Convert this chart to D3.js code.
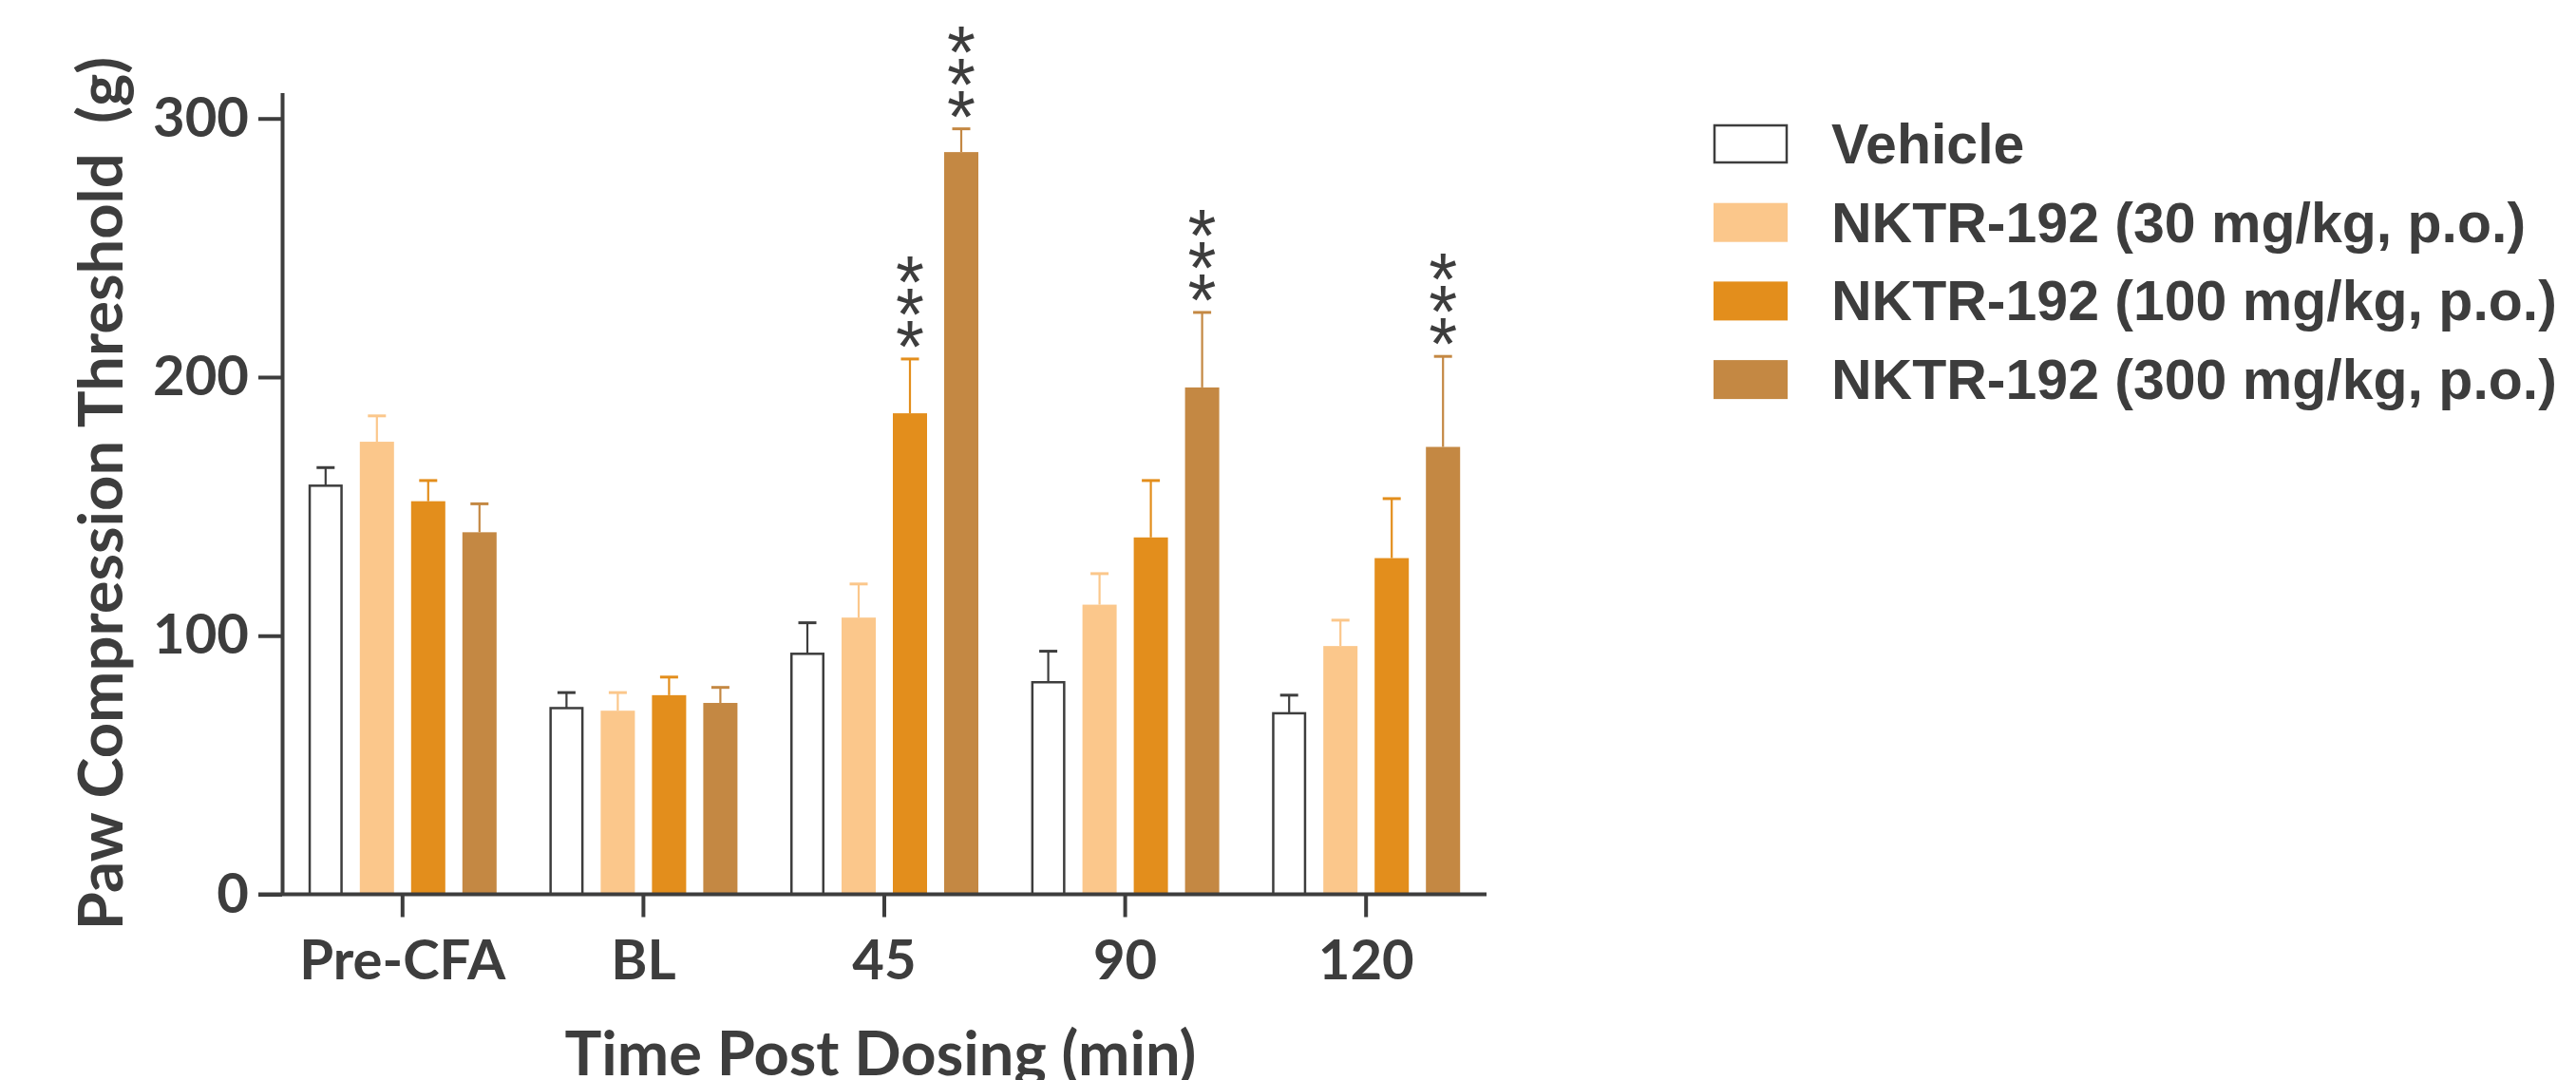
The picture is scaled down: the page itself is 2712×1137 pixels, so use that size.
<!DOCTYPE html>
<html>
<head>
<meta charset="utf-8">
<script src="https://cdn.jsdelivr.net/npm/d3@7"></script>
<style>
  body { margin: 0; background: #fff; }
  svg { display: block; }
</style>
</head>
<body>
<div class="chart"></div>
<script>
// data
var categories = ["Pre-CFA", "BL", "45", "90", "120"];
var seriesNames = ["Vehicle", "NKTR-192 (30 mg/kg, p.o.)", "NKTR-192 (100 mg/kg, p.o.)", "NKTR-192 (300 mg/kg, p.o.)"];
var vehicle = [158, 72, 93, 82, 70];
var vehicleErr = [7, 6, 12, 12, 7];
var nktr30 = [175, 71, 107, 112, 96];
var nktr30Err = [10, 7, 13, 12, 10];
var nktr100 = [152, 77, 186, 138, 130];
var nktr100Err = [8, 7, 21, 22, 23];
var nktr300 = [140, 74, 287, 196, 173];
var nktr300Err = [11, 6, 9, 29, 35];
// significance marks: [series index, category index]
var stars = [[2, 2], [3, 2], [3, 3], [3, 4]];
var yTicks = [0, 100, 200, 300];

var values = [vehicle, nktr30, nktr100, nktr300];
var errors = [vehicleErr, nktr30Err, nktr100Err, nktr300Err];
var fills = ["#ffffff", "#fbc78b", "#e38e1c", "#c48843"];
var dark = "#3d3d3d";

var W = 2712, H = 1137;

var svg = d3.select(".chart").append("svg")
	.attr("width", W)
	.attr("height", H);

var x0 = d3.scaleBand()
	.domain(categories)
	.range([297, 1565]);

var x1 = d3.scaleBand()
	.domain(d3.range(seriesNames.length))
	.range([-108, 108])
	.paddingInner(1 / 3)
	.paddingOuter(1 / 6);

var y = d3.scaleLinear()
	.domain([0, 310])
	.range([941.5, 97.5]);

// flatten to one record per bar
var bars = [];
categories.forEach(function(c, ci) {
	values.forEach(function(vals, si) {
		bars.push({cat: c, ci: ci, s: si, v: vals[ci], e: errors[si][ci]});
	});
});

var barX = function(d) { return x0(d.cat) + x0.bandwidth() / 2 + x1(d.s); };
var barMid = function(d) { return barX(d) + x1.bandwidth() / 2; };

// error bars (up only) drawn first, bar covers the base
var eb = svg.append("g").selectAll("g")
	.data(bars)
	.enter()
	.append("g")
	.style("stroke", function(d) { return d.s == 0 ? dark : fills[d.s]; });

eb.append("line")
	.attr("x1", barMid)
	.attr("x2", barMid)
	.attr("y1", function(d) { return y(d.v); })
	.attr("y2", function(d) { return y(d.v + d.e); })
	.style("stroke-width", 2.2);

eb.append("line")
	.attr("x1", function(d) { return barMid(d) - 9.5; })
	.attr("x2", function(d) { return barMid(d) + 9.5; })
	.attr("y1", function(d) { return y(d.v + d.e); })
	.attr("y2", function(d) { return y(d.v + d.e); })
	.style("stroke-width", 3);

svg.append("g").selectAll("rect")
	.data(bars)
	.enter()
	.append("rect")
	.attr("x", function(d) { return d.s == 0 ? barX(d) + 1.25 : barX(d); })
	.attr("width", function(d) { return d.s == 0 ? x1.bandwidth() - 2.5 : x1.bandwidth(); })
	.attr("y", function(d) { return y(d.v); })
	.attr("height", function(d) { return y(0) - y(d.v); })
	.style("fill", function(d) { return fills[d.s]; })
	.style("stroke", function(d) { return d.s == 0 ? dark : "none"; })
	.style("stroke-width", 2.5);

// asterisks above the error caps
var starG = svg.append("g");
stars.forEach(function(p) {
	var d = bars.filter(function(b) { return b.s == p[0] && b.ci == p[1]; })[0];
	var top = y(d.v + d.e);
	for (var k = 0; k < 3; k++) {
		starG.append("text")
			.attr("x", barMid(d))
			.attr("y", top - 30 - k * 34 + 44)
			.attr("text-anchor", "middle")
			.attr("font-family", "Liberation Sans, Arial, sans-serif")
			.attr("font-size", "77px")
			.attr("fill", dark)
			.text("*");
	}
});

// y axis
var yAxis = svg.append("g")
	.attr("transform", "translate(" + x0.range()[0] + ",0)")
	.call(d3.axisLeft(y).tickValues(yTicks).tickSize(25).tickSizeOuter(0).tickPadding(10));

// x axis
var xAxis = svg.append("g")
	.attr("transform", "translate(0," + y(0) + ")")
	.call(d3.axisBottom(x0).tickSize(24).tickSizeOuter(0).tickPadding(24));

// x axis line runs left through the y axis to the tick ends
xAxis.select(".domain")
	.attr("d", "M" + (x0.range()[0] - 25) + ",0H" + x0.range()[1]);

[yAxis, xAxis].forEach(function(a) {
	a.selectAll(".domain, line")
		.style("stroke", dark)
		.style("stroke-width", 4);
	a.selectAll("text")
		.attr("font-family", "Lato, sans-serif")
		.attr("font-weight", "bold")
		.attr("font-size", "58px")
		.attr("fill", dark);
});

// axis titles
svg.append("text")
	.attr("transform", "translate(129," + (y.range()[0] + y.range()[1]) / 2 + ") rotate(-90)")
	.attr("text-anchor", "middle")
	.attr("font-family", "Lato, sans-serif")
	.attr("font-weight", "bold")
	.attr("font-size", "65px")
	.attr("fill", dark)
	.style("white-space", "pre")
	.text("Paw Compression Threshold  (g)");

svg.append("text")
	.attr("x", (x0.range()[0] + x0.range()[1]) / 2 - 4)
	.attr("y", 1132)
	.attr("text-anchor", "middle")
	.attr("font-family", "Lato, sans-serif")
	.attr("font-weight", "bold")
	.attr("font-size", "65px")
	.attr("fill", dark)
	.text("Time Post Dosing (min)");

// legend
var legend = svg.append("g")
	.attr("transform", "translate(1804,172)")
	.selectAll("g")
	.data(seriesNames)
	.enter()
	.append("g")
	.attr("transform", function(d, i) { return "translate(0," + i * 82.7 + ")"; });

legend.append("rect")
	.attr("x", function(d, i) { return i == 0 ? 1 : 0; })
	.attr("y", function(d, i) { return i == 0 ? -40 : -41; })
	.attr("width", function(d, i) { return i == 0 ? 76 : 78; })
	.attr("height", function(d, i) { return i == 0 ? 39 : 41; })
	.style("fill", function(d, i) { return fills[i]; })
	.style("stroke", function(d, i) { return i == 0 ? dark : "none"; })
	.style("stroke-width", 2.5);

legend.append("text")
	.attr("x", 124)
	.attr("y", 0)
	.attr("font-family", "Liberation Sans, Arial, sans-serif")
	.attr("font-weight", "bold")
	.attr("font-size", "59px")
	.attr("fill", dark)
	.text(function(d) { return d; });
</script>
</body>
</html>
